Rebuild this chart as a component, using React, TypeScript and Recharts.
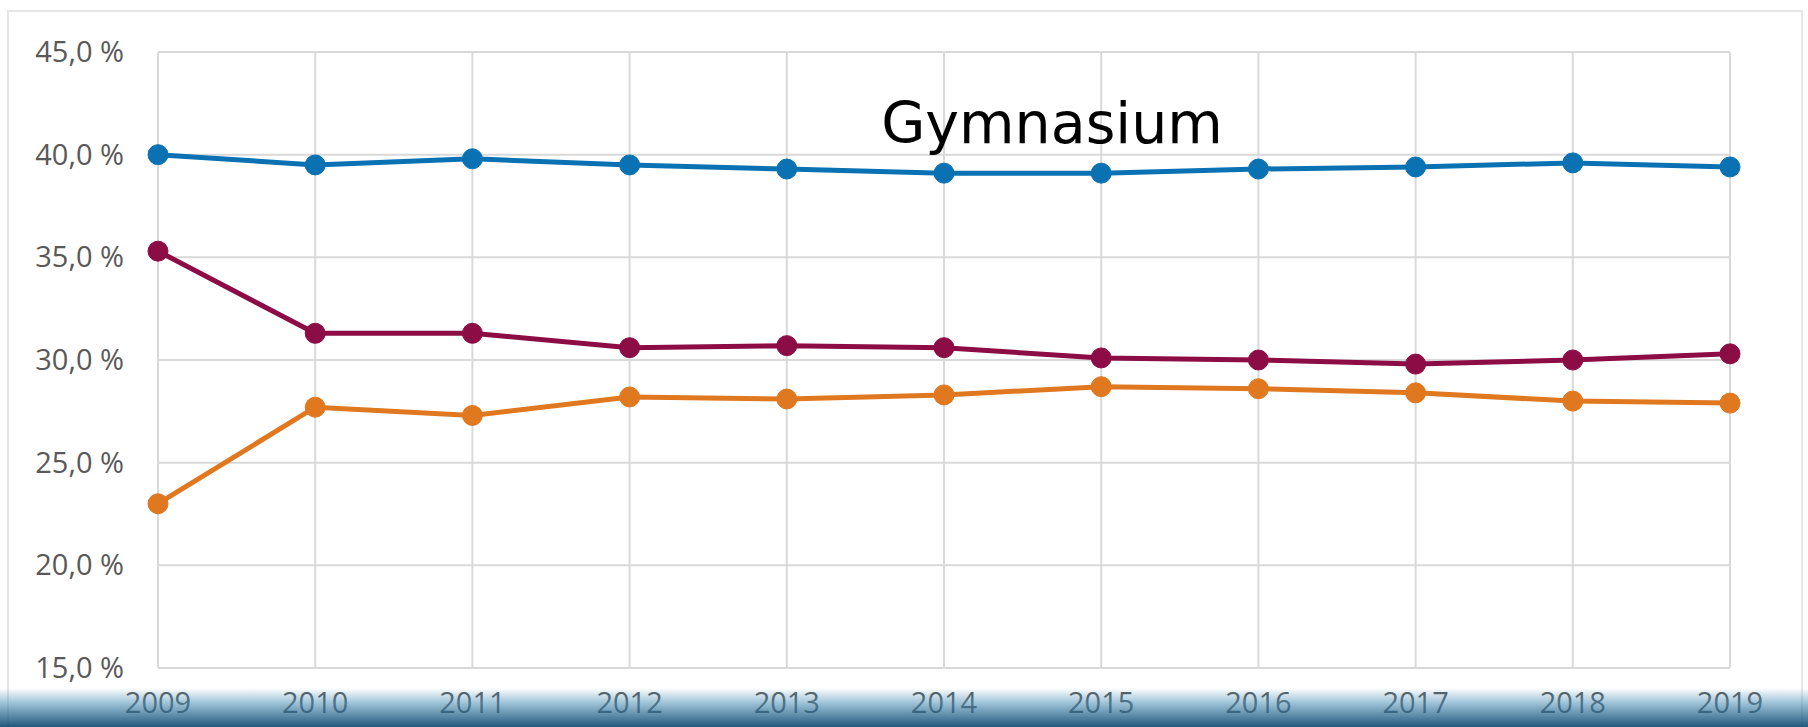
import React from 'react';
import { LineChart, Line, XAxis, YAxis, CartesianGrid } from 'recharts';

const years = ['2009', '2010', '2011', '2012', '2013', '2014', '2015', '2016', '2017', '2018', '2019'];
const blueSeries = [40.0, 39.5, 39.8, 39.5, 39.3, 39.1, 39.1, 39.3, 39.4, 39.6, 39.4];
const redSeries = [35.3, 31.3, 31.3, 30.6, 30.7, 30.6, 30.1, 30.0, 29.8, 30.0, 30.3];
const orangeSeries = [23.0, 27.7, 27.3, 28.2, 28.1, 28.3, 28.7, 28.6, 28.4, 28.0, 27.9];
const yTicks = [15, 20, 25, 30, 35, 40, 45];

const data = years.map((year, i) => ({
  year,
  blue: blueSeries[i],
  red: redSeries[i],
  orange: orangeSeries[i],
}));

const FONT = '"Open Sans", "Liberation Sans", sans-serif';

const YTick = ({ x, y, payload }: any) => (
  <text x={x - 26} y={y} dy="0.35em" textAnchor="end" fill="#595959" fontSize={29} fontFamily={FONT}>
    {payload.value.toFixed(1).replace('.', ',')} %
  </text>
);

const XTick = ({ x, y, payload }: any) => (
  <text x={x} y={y} dy={37} textAnchor="middle" fill="#595959" fontSize={29} fontFamily={FONT}>
    {payload.value}
  </text>
);

const App: React.FC = () => {
  return (
    <div style={{ position: 'fixed', left: 0, top: 0, width: 1808, height: 727, background: '#fff', overflow: 'hidden' }}>
      {/* outer frame */}
      <div
        style={{
          position: 'absolute',
          left: 7,
          top: 10,
          width: 1796,
          height: 760,
          border: '2px solid #e6e6e6',
          boxSizing: 'border-box',
        }}
      />
      <LineChart
        width={1808}
        height={727}
        data={data}
        margin={{ top: 52, right: 78, left: 0, bottom: 0 }}
        style={{ position: 'absolute', left: 0, top: 0 }}
      >
        <CartesianGrid stroke="#d9d9d9" strokeWidth={2} horizontal vertical />
        <XAxis
          dataKey="year"
          axisLine={false}
          tickLine={false}
          tick={<XTick />}
          height={59}
          padding={{ left: 0, right: 0 }}
        />
        <YAxis
          domain={[15, 45]}
          ticks={yTicks}
          axisLine={false}
          tickLine={false}
          tick={<YTick />}
          width={158}
          interval={0}
        />
        <Line
          dataKey="blue"
          stroke="#0a72b2"
          strokeWidth={5}
          dot={{ r: 10, fill: '#0a72b2', stroke: '#0a72b2', strokeWidth: 1 }}
          isAnimationActive={false}
        />
        <Line
          dataKey="red"
          stroke="#8c0c46"
          strokeWidth={5}
          dot={{ r: 10, fill: '#8c0c46', stroke: '#8c0c46', strokeWidth: 1 }}
          isAnimationActive={false}
        />
        <Line
          dataKey="orange"
          stroke="#e07820"
          strokeWidth={5}
          dot={{ r: 10, fill: '#e07820', stroke: '#e07820', strokeWidth: 1 }}
          isAnimationActive={false}
        />
      </LineChart>
      {/* title */}
      <div
        style={{
          position: 'absolute',
          left: 852,
          top: 85,
          width: 400,
          textAlign: 'center',
          fontFamily: '"DejaVu Sans", sans-serif',
          fontSize: 57,
          lineHeight: '76px',
          color: '#000',
        }}
      >
        Gymnasium
      </div>
      {/* bottom band */}
      <div
        style={{
          position: 'absolute',
          left: 0,
          top: 688,
          width: 1808,
          height: 39,
          background: 'linear-gradient(to bottom, rgba(255,255,255,0) 0%, rgba(70,140,180,0.55) 40%, rgba(15,75,115,0.92) 100%)',
        }}
      />
    </div>
  );
};

export default App;
